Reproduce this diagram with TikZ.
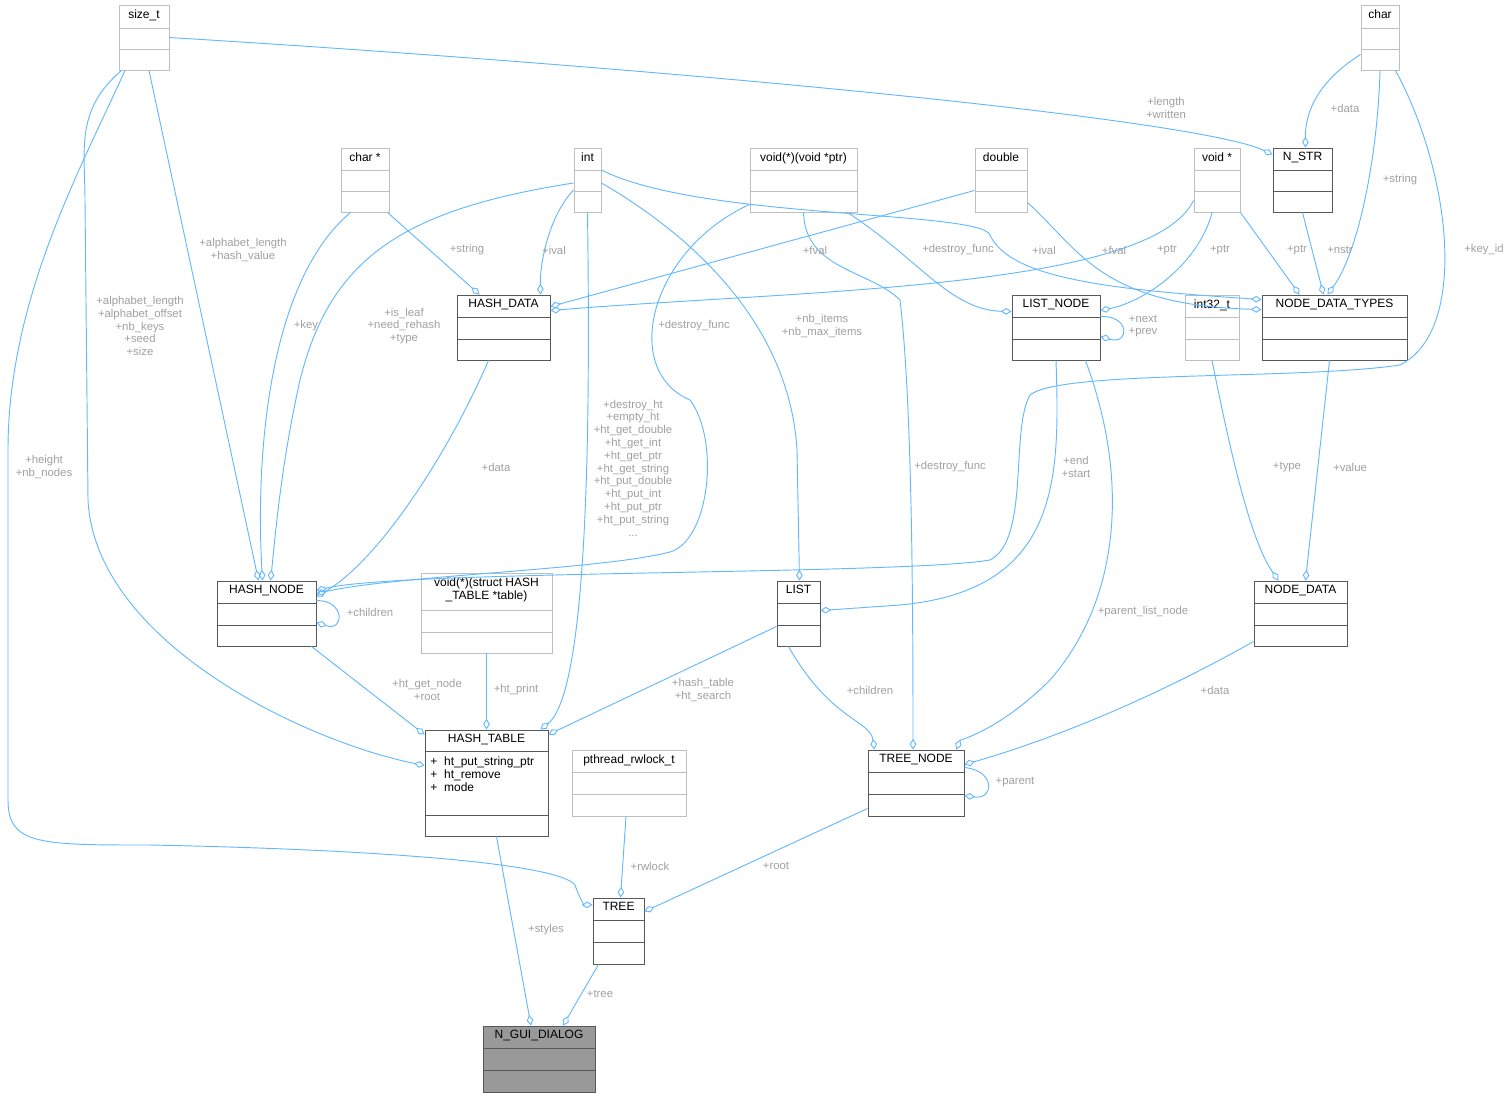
\documentclass[tikz,border=0pt]{standalone}
\usepackage{fontspec}
\setmainfont{Liberation Sans}
\usetikzlibrary{arrows.meta, calc, fit, positioning}
\definecolor{edgeblue}{RGB}{99,184,255}
\definecolor{lblgray}{RGB}{160,160,160}

\tikzset{
  cls/.style={draw=black!65},
  ext/.style={draw=black!25},
  edge/.style={draw=edgeblue, line width=0.7pt, -{Diamond[open,length=8pt,width=5pt]}},
  lbl/.style={text=lblgray, font=\fontsize{8.5}{9.6}\selectfont, align=center, inner sep=1pt},
  ttl/.style={font=\fontsize{9}{10}\selectfont, align=center, inner sep=2pt}
}

% name, style, x1, y1, x2, y2, title height, title
\newcommand{\classbox}[8]{%
  \path (#3,#4) coordinate (#1-nw) (#5,#6) coordinate (#1-se);
  \node (#1) [fit=(#1-nw)(#1-se), inner sep=0pt, #2, line width=0.7pt] {};
  \node (#1-t) [ttl, anchor=north] at ($(#1.north)+(0,2)$) {#8};
  \draw [#2, line width=0.7pt] ($(#1.north west)+(0,#7)$) -- ($(#1.north east)+(0,#7)$);
  \draw [#2, line width=0.7pt] ($(#1.west)+(0,{#7/2})$) -- ($(#1.east)+(0,{#7/2})$);
}

\begin{document}
\begin{tikzpicture}[x=0.75pt, y=-0.75pt]
\useasboundingbox (0,0) rectangle (1511,1097);

%--------------------------------------------------------------
\classbox{sizet}{ext}{119}{5}{169}{70}{24}{size\_t}
\classbox{char}{ext}{1361}{5}{1399}{70}{24}{char}
\classbox{charp}{ext}{341}{148}{389}{212}{23}{char *}
\classbox{int}{ext}{574}{148}{601}{212}{23}{int}
\classbox{vfp}{ext}{750}{148}{857}{212}{23}{void(*)(void *ptr)}
\classbox{double}{ext}{975}{148}{1027}{212}{23}{double}
\classbox{voidp}{ext}{1194}{148}{1240}{212}{23}{void *}
\classbox{nstr}{cls}{1273}{148}{1332}{212}{23}{N\_STR}
\classbox{hashdata}{cls}{457}{295}{550}{360}{23}{HASH\_DATA}
\classbox{listnode}{cls}{1012}{295}{1100}{360}{23}{LIST\_NODE}
\classbox{int32}{ext}{1185}{295}{1239}{360}{23}{int32\_t}
\classbox{ndt}{cls}{1262}{295}{1407}{360}{23}{NODE\_DATA\_TYPES}
\classbox{hashnode}{cls}{217}{581}{316}{646}{23}{HASH\_NODE}
\classbox{fpstruct}{ext}{421}{573}{552}{653}{38}{void(*)(struct HASH\\\_TABLE *table)}
\classbox{list}{cls}{777}{581}{820}{646}{23}{LIST}
\classbox{nodedata}{cls}{1254}{581}{1347}{646}{23}{NODE\_DATA}
\classbox{pthread}{ext}{572}{750}{686}{816}{23}{pthread\_rwlock\_t}
\classbox{treenode}{cls}{868}{750}{964}{816}{23}{TREE\_NODE}
\classbox{tree}{cls}{593}{898}{644}{964}{23}{TREE}

%--------------------------------------------------------------
\node (hashtable) [fit={(425,730)(548,836)}, inner sep=0pt, cls, line width=0.7pt] {};
\node (hashtable-t) [ttl, anchor=north] at ($(hashtable.north)+(0,2)$) {HASH\_TABLE};
\draw [cls, line width=0.7pt] ($(hashtable.north west)+(0,22)$) -- ($(hashtable.north east)+(0,22)$);
\draw [cls, line width=0.7pt] ($(hashtable.south west)+(0,-21)$) -- ($(hashtable.south east)+(0,-21)$);
\node (hashtable-m) [ttl, anchor=north west, align=left] at ($(hashtable.north west)+(3,24)$)
  {+\ \ ht\_put\_string\_ptr\\+\ \ ht\_remove\\+\ \ mode};

\node (gui) [fit={(483,1026)(595,1092)}, inner sep=0pt, cls, fill=black!40, line width=0.7pt] {};
\node (gui-t) [ttl, anchor=north] at ($(gui.north)+(0,2)$) {N\_GUI\_DIALOG};
\draw [cls, line width=0.7pt] ($(gui.north west)+(0,23)$) -- ($(gui.north east)+(0,23)$);
\draw [cls, line width=0.7pt] ($(gui.west)+(0,11.5)$) -- ($(gui.east)+(0,11.5)$);

%--------------------------------------------------------------
\draw [edge] (sizet.east) .. controls (700,70) and (1200,120) .. ($(nstr.north west)+(0,7)$);
\draw [edge] ($(char.south west)+(0,-16)$) .. controls (1320,80) and (1305,110) .. ($(nstr.north)+(3,0)$);
\draw [edge] (char.south) .. controls (1378,150) and (1360,250) .. ($(ndt.north)+(-7,0)$);
\draw [edge] ($(char.south east)+(-4,0)$) .. controls (1450,170) and (1470,330) .. (1400,365)
  .. controls (1300,380) and (1060,370) .. (1030,395) .. controls (1010,430) and (1030,540) .. (990,560)
  .. controls (900,575) and (400,570) .. ($(hashnode.north east)+(0,10)$);
\draw [edge] ($(sizet.south)+(5,0)$) -- ($(hashnode.north)+(-8,0)$);
\draw [edge] ($(sizet.south west)+(3,0)$) .. controls (75,110) and (85,150) .. (85,200) -- (88,500)
  .. controls (95,640) and (300,740) .. ($(hashtable.north west)+(0,36)$);
\draw [edge] ($(sizet.south)+(-19,0)$) .. controls (80,170) and (8,300) .. (8,450) -- (8,800)
  .. controls (8,845) and (40,845) .. (150,845) .. controls (400,850) and (560,865) .. (575,885)
  .. controls (580,900) and (585,905) .. ($(tree.north west)+(0,7)$);
\draw [edge] ($(charp.south west)+(10,0)$) .. controls (270,280) and (255,450) .. ($(hashnode.north)+(-4,0)$);
\draw [edge] ($(charp.south east)+(-2,0)$) -- ($(hashdata.north west)+(23,0)$);
\draw [edge] ($(int.west)+(0,10)$) .. controls (550,215) and (540,260) .. ($(hashdata.north east)+(-10,0)$);
\draw [edge] ($(int.west)+(0,3)$) .. controls (400,210) and (330,260) .. (300,380)
  .. controls (280,470) and (275,540) .. ($(hashnode.north)+(4,0)$);
\draw [edge] (int.south) .. controls (590,400) and (590,690) .. ($(hashtable.north east)+(-8,0)$);
\draw [edge] ($(int.east)+(0,3)$) .. controls (700,240) and (790,330) .. (797,450) -- ($(list.north)+(1,0)$);
\draw [edge] ($(int.east)+(0,-10)$) .. controls (700,220) and (980,210) .. (990,235)
  .. controls (1010,280) and (1120,290) .. ($(ndt.north west)+(0,5)$);
\draw [edge] ($(vfp.south west)+(0,-8)$) .. controls (650,250) and (620,370) .. (690,400)
  .. controls (720,440) and (710,540) .. (670,552) .. controls (600,570) and (400,575) .. ($(hashnode.north east)+(0,13)$);
\draw [edge] ($(vfp.south east)+(-10,0)$) .. controls (920,260) and (950,310) .. ($(listnode.north west)+(0,17)$);
\draw [edge] (vfp.south) .. controls (805,270) and (870,270) .. (900,300)
  .. controls (912,400) and (913,600) .. ($(treenode.north)+(-3,0)$);
\draw [edge] ($(double.south west)+(0,-22)$) -- ($(hashdata.north east)+(0,12)$);
\draw [edge] ($(double.south east)+(0,-10)$) .. controls (1080,250) and (1100,305) .. ($(ndt.north west)+(0,15)$);
\draw [edge] ($(voidp.south west)+(0,-12)$) .. controls (1150,290) and (800,290) .. ($(hashdata.north east)+(0,16)$);
\draw [edge] ($(voidp.south)+(-5,0)$) .. controls (1200,260) and (1150,300) .. ($(listnode.north east)+(0,16)$);
\draw [edge] (voidp.south east) -- ($(ndt.north west)+(38,0)$);
\draw [edge] (nstr.south) -- ($(ndt.north)+(-11,0)$);
\draw [edge] ($(hashdata.south)+(-15,0)$) .. controls (450,450) and (380,560) .. ($(hashnode.north east)+(0,16)$);
\draw [edge] ($(listnode.north east)+(0,22)$) .. controls (1130,315) and (1130,345) .. ($(listnode.north east)+(0,42)$);
\draw [edge] (listnode.south) .. controls (1060,480) and (1060,590) .. (900,605) -- ($(list.north east)+(0,30)$);
\draw [edge] ($(listnode.south east)+(-15,0)$) .. controls (1130,480) and (1120,600) .. (1050,680)
  .. controls (1000,730) and (960,740) .. ($(treenode.north east)+(-8,0)$);
\draw [edge] (int32.south) .. controls (1230,450) and (1250,540) .. ($(nodedata.north)+(-22,0)$);
\draw [edge] ($(ndt.south)+(-5,0)$) -- ($(nodedata.north)+(5,0)$);
\draw [edge] ($(hashnode.north east)+(0,20)$) .. controls (345,600) and (345,632) .. ($(hashnode.north east)+(0,42)$);
\draw [edge] ($(hashnode.south east)+(-5,0)$) -- ($(hashtable.north west)+(0,5)$);
\draw [edge] (fpstruct.south) -- (hashtable.north);
\draw [edge] ($(list.south west)+(0,-20)$) -- ($(hashtable.north east)+(0,5)$);
\draw [edge] ($(list.south)+(-10,0)$) .. controls (830,720) and (870,720) .. ($(treenode.north west)+(7,0)$);
\draw [edge] ($(nodedata.south west)+(0,-5)$) .. controls (1150,700) and (1050,740) .. ($(treenode.north east)+(0,15)$);
\draw [edge] ($(treenode.north east)+(0,18)$) .. controls (995,770) and (995,800) .. ($(treenode.north east)+(0,46)$);
\draw [edge] ($(pthread.south)+(-3,0)$) -- ($(tree.north)+(2,0)$);
\draw [edge] ($(treenode.south west)+(0,-8)$) -- ($(tree.north east)+(0,14)$);
\draw [edge] ($(hashtable.south)+(10,0)$) -- ($(gui.north)+(-8,0)$);
\draw [edge] ($(tree.south)+(-20,0)$) -- ($(gui.north)+(24,0)$);

%--------------------------------------------------------------
\node (l-len) [lbl] at (1166,108) {+length\\+written};
\node (l-data1) [lbl] at (1345,108) {+data};
\node (l-string1) [lbl] at (1400,180) {+string};
\node (l-keyid) [lbl] at (1484,250) {+key\_id};
\node (l-alpha1) [lbl] at (243,250) {+alphabet\_length\\+hash\_value};
\node (l-alpha2) [lbl] at (140,326) {+alphabet\_length\\+alphabet\_offset\\+nb\_keys\\+seed\\+size};
\node (l-height) [lbl] at (44,467) {+height\\+nb\_nodes};
\node (l-key) [lbl] at (306,326) {+key};
\node (l-string2) [lbl] at (467,250) {+string};
\node (l-ival1) [lbl] at (554,250) {+ival};
\node (l-isleaf) [lbl] at (404,326) {+is\_leaf\\+need\_rehash\\+type};
\node (l-ht) [lbl] at (633,468) {+destroy\_ht\\+empty\_ht\\+ht\_get\_double\\+ht\_get\_int\\+ht\_get\_ptr\\+ht\_get\_string\\+ht\_put\_double\\+ht\_put\_int\\+ht\_put\_ptr\\+ht\_put\_string\\...};
\node (l-nbitems) [lbl] at (822,326) {+nb\_items\\+nb\_max\_items};
\node (l-ival2) [lbl] at (1044,250) {+ival};
\node (l-dfunc1) [lbl] at (694,326) {+destroy\_func};
\node (l-dfunc2) [lbl] at (958,250) {+destroy\_func};
\node (l-dfunc3) [lbl] at (950,467) {+destroy\_func};
\node (l-fval1) [lbl] at (815,250) {+fval};
\node (l-fval2) [lbl] at (1114,250) {+fval};
\node (l-ptr1) [lbl] at (1167,250) {+ptr};
\node (l-ptr2) [lbl] at (1220,250) {+ptr};
\node (l-ptr3) [lbl] at (1297,250) {+ptr};
\node (l-nstr) [lbl] at (1340,250) {+nstr};
\node (l-data2) [lbl] at (496,467) {+data};
\node (l-next) [lbl] at (1143,326) {+next\\+prev};
\node (l-end) [lbl] at (1076,467) {+end\\+start};
\node (l-pln) [lbl] at (1143,612) {+parent\_list\_node};
\node (l-type) [lbl] at (1287,467) {+type};
\node (l-value) [lbl] at (1350,467) {+value};
\node (l-child1) [lbl] at (370,612) {+children};
\node (l-getnode) [lbl] at (427,690) {+ht\_get\_node\\+root};
\node (l-print) [lbl] at (516,690) {+ht\_print};
\node (l-htable) [lbl] at (703,690) {+hash\_table\\+ht\_search};
\node (l-child2) [lbl] at (870,690) {+children};
\node (l-data3) [lbl] at (1215,690) {+data};
\node (l-parent) [lbl] at (1015,782) {+parent};
\node (l-rwlock) [lbl] at (650,866) {+rwlock};
\node (l-root) [lbl] at (776,866) {+root};
\node (l-styles) [lbl] at (546,930) {+styles};
\node (l-tree) [lbl] at (600,994) {+tree};
\end{tikzpicture}
\end{document}
